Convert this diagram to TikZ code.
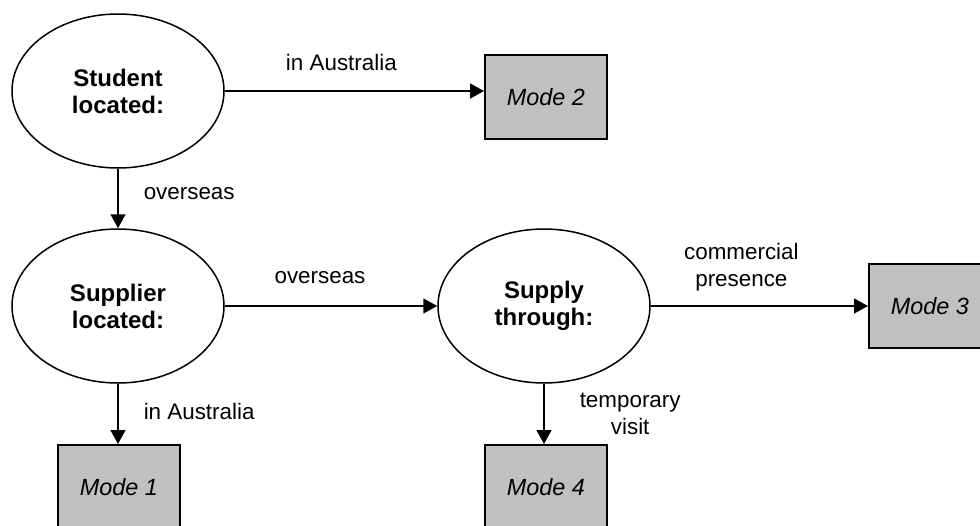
\documentclass[tikz,border=0pt]{standalone}
\usepackage{fontspec}
\setmainfont{Liberation Sans}
\usetikzlibrary{arrows.meta,shapes.geometric}
\definecolor{modegray}{RGB}{192,192,192}
\tikzset{
  q/.style={ellipse,draw,line width=0.75pt,minimum width=106pt,minimum height=77pt,inner sep=0pt,
    align=center,font=\bfseries\fontsize{12}{13.5}\selectfont},
  mode/.style={rectangle,draw,line width=1pt,fill=modegray,minimum width=61pt,minimum height=42pt,
    inner sep=0pt,font=\itshape\fontsize{11.7}{14}\selectfont},
  lbl/.style={inner sep=0pt,align=center,font=\fontsize{11.2}{13.3}\selectfont},
  go/.style={line width=0.75pt,-{Triangle[length=7pt,width=7.5pt]}}
}
\begin{document}
\begin{tikzpicture}[x=0.5pt,y=-0.5pt]
\useasboundingbox (0,0) rectangle (980,525);
\clip (0,0) rectangle (980,525);
\node [q] (stud) at (118,91) {Student\\located:};
\node [q] (supl) at (118,306) {Supplier\\located:};
\node [q] (thru) at (544,306) {Supply\\through:};
\node [mode] (m2) at (546,97) {Mode 2};
\node [mode] (m1) at (119,487) {Mode 1};
\node [mode] (m4) at (546,487) {Mode 4};
\node [mode] (m3) at (930,306) {Mode 3};
\draw [go] (stud.east) -- node [lbl,midway,xshift=-6.5pt,yshift=14.5pt] (la) {in Australia} (stud.east -| m2.west);
\draw [go] (stud) -- node [lbl,midway,right=12.5pt,yshift=2.5pt] (lb) {overseas} (supl);
\draw [go] (supl) -- node [lbl,midway,xshift=-5.5pt,yshift=14pt] (lc) {overseas} (thru);
\draw [go] (supl) -- node [lbl,midway,right=12.5pt,yshift=1pt] (ld) {in Australia} (supl |- m1.north);
\draw [go] (thru) -- node [lbl,midway,xshift=-9pt,yshift=19.5pt] (le) {commercial\\presence} (m3);
\draw [go] (thru) -- node [lbl,midway,right=17.5pt] (lf) {temporary\\visit} (thru |- m4.north);
\end{tikzpicture}
\end{document}
